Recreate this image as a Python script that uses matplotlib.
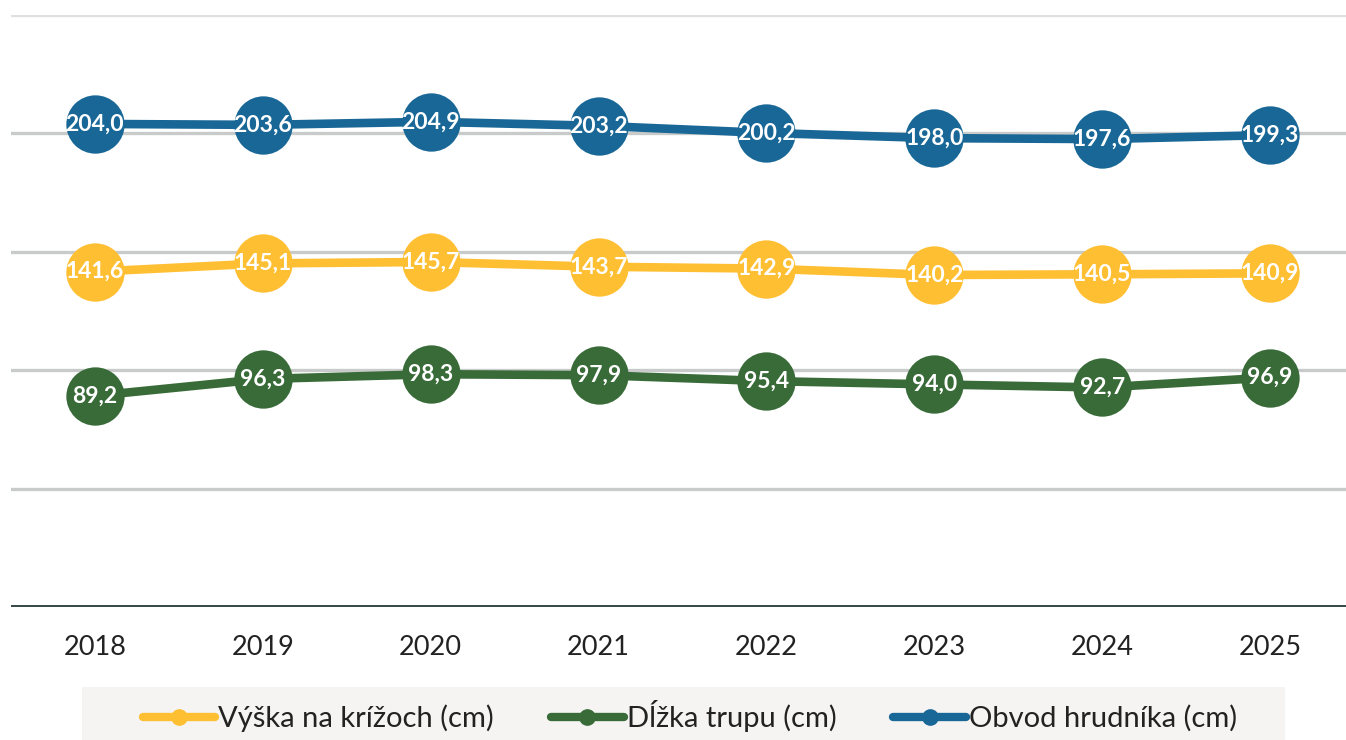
import matplotlib
matplotlib.use("Agg")
import matplotlib.pyplot as plt
from matplotlib.lines import Line2D
from matplotlib.patches import Rectangle

years = ["2018", "2019", "2020", "2021", "2022", "2023", "2024", "2025"]
vyska = [141.6, 145.1, 145.7, 143.7, 142.9, 140.2, 140.5, 140.9]
dlzka = [89.2, 96.3, 98.3, 97.9, 95.4, 94.0, 92.7, 96.9]
obvod = [204.0, 203.6, 204.9, 203.2, 200.2, 198.0, 197.6, 199.3]
series_names = ["Výška na krížoch (cm)", "Dĺžka trupu (cm)", "Obvod hrudníka (cm)"]
colors = ["#FFBF33", "#386B38", "#196796"]
yticks = [0, 50, 100, 150, 200, 250]

FONT = "Lato"

fig = plt.figure(figsize=(13.46, 7.40), dpi=100)
W, H = 1346, 740
ax = fig.add_axes([11 / W, 1 - 607 / H, (W - 11) / W, (607 - 15) / H])
x = list(range(len(years)))
ax.set_xlim(-0.5, len(years) - 0.5 - 8 / 168)
ax.set_ylim(0, 250)

for yv in yticks[1:]:
    ax.axhline(yv, color="#C9CBCB" if yv < 250 else "#E0E0E0", lw=2.4, zorder=1)
ax.axhline(0, color="#3A4A4C", lw=3.6, zorder=2)

for vals, col in zip([vyska, dlzka, obvod], colors):
    ax.plot(x, vals, color=col, lw=6.2, marker="o", markersize=42,
            markeredgewidth=0, zorder=3, solid_capstyle="round")
    for xi, v in zip(x, vals):
        ax.text(xi, v, f"{v:.1f}".replace(".", ","), ha="center", va="center",
                color="white", fontsize=16.5, fontweight="bold", family=FONT, zorder=4)

ax.set_yticks([])
ax.set_xticks(x)
ax.set_xticklabels(years, fontsize=19.5, color="#222222", family=FONT)
ax.tick_params(axis="x", length=0, pad=20)
for s in ax.spines.values():
    s.set_visible(False)

# legend background band
fig.patches.append(Rectangle((82 / W, 0), (1285 - 82) / W, (740 - 687) / H,
                             transform=fig.transFigure, facecolor="#F5F4F2",
                             edgecolor="none", zorder=0))

handles = [Line2D([], [], color=c, lw=6, marker="o", markersize=11,
                  solid_capstyle="round") for c in colors]
leg = fig.legend(handles, series_names, loc="center",
                 bbox_to_anchor=(690 / W, 1 - 716 / H), ncol=3,
                 frameon=False, prop={"family": FONT, "size": 21},
                 handlelength=2.5, handletextpad=0.1, columnspacing=1.95,
                 borderpad=0.3)
for t in leg.get_texts():
    t.set_color("#222222")

fig.savefig("out.png", dpi=100)
